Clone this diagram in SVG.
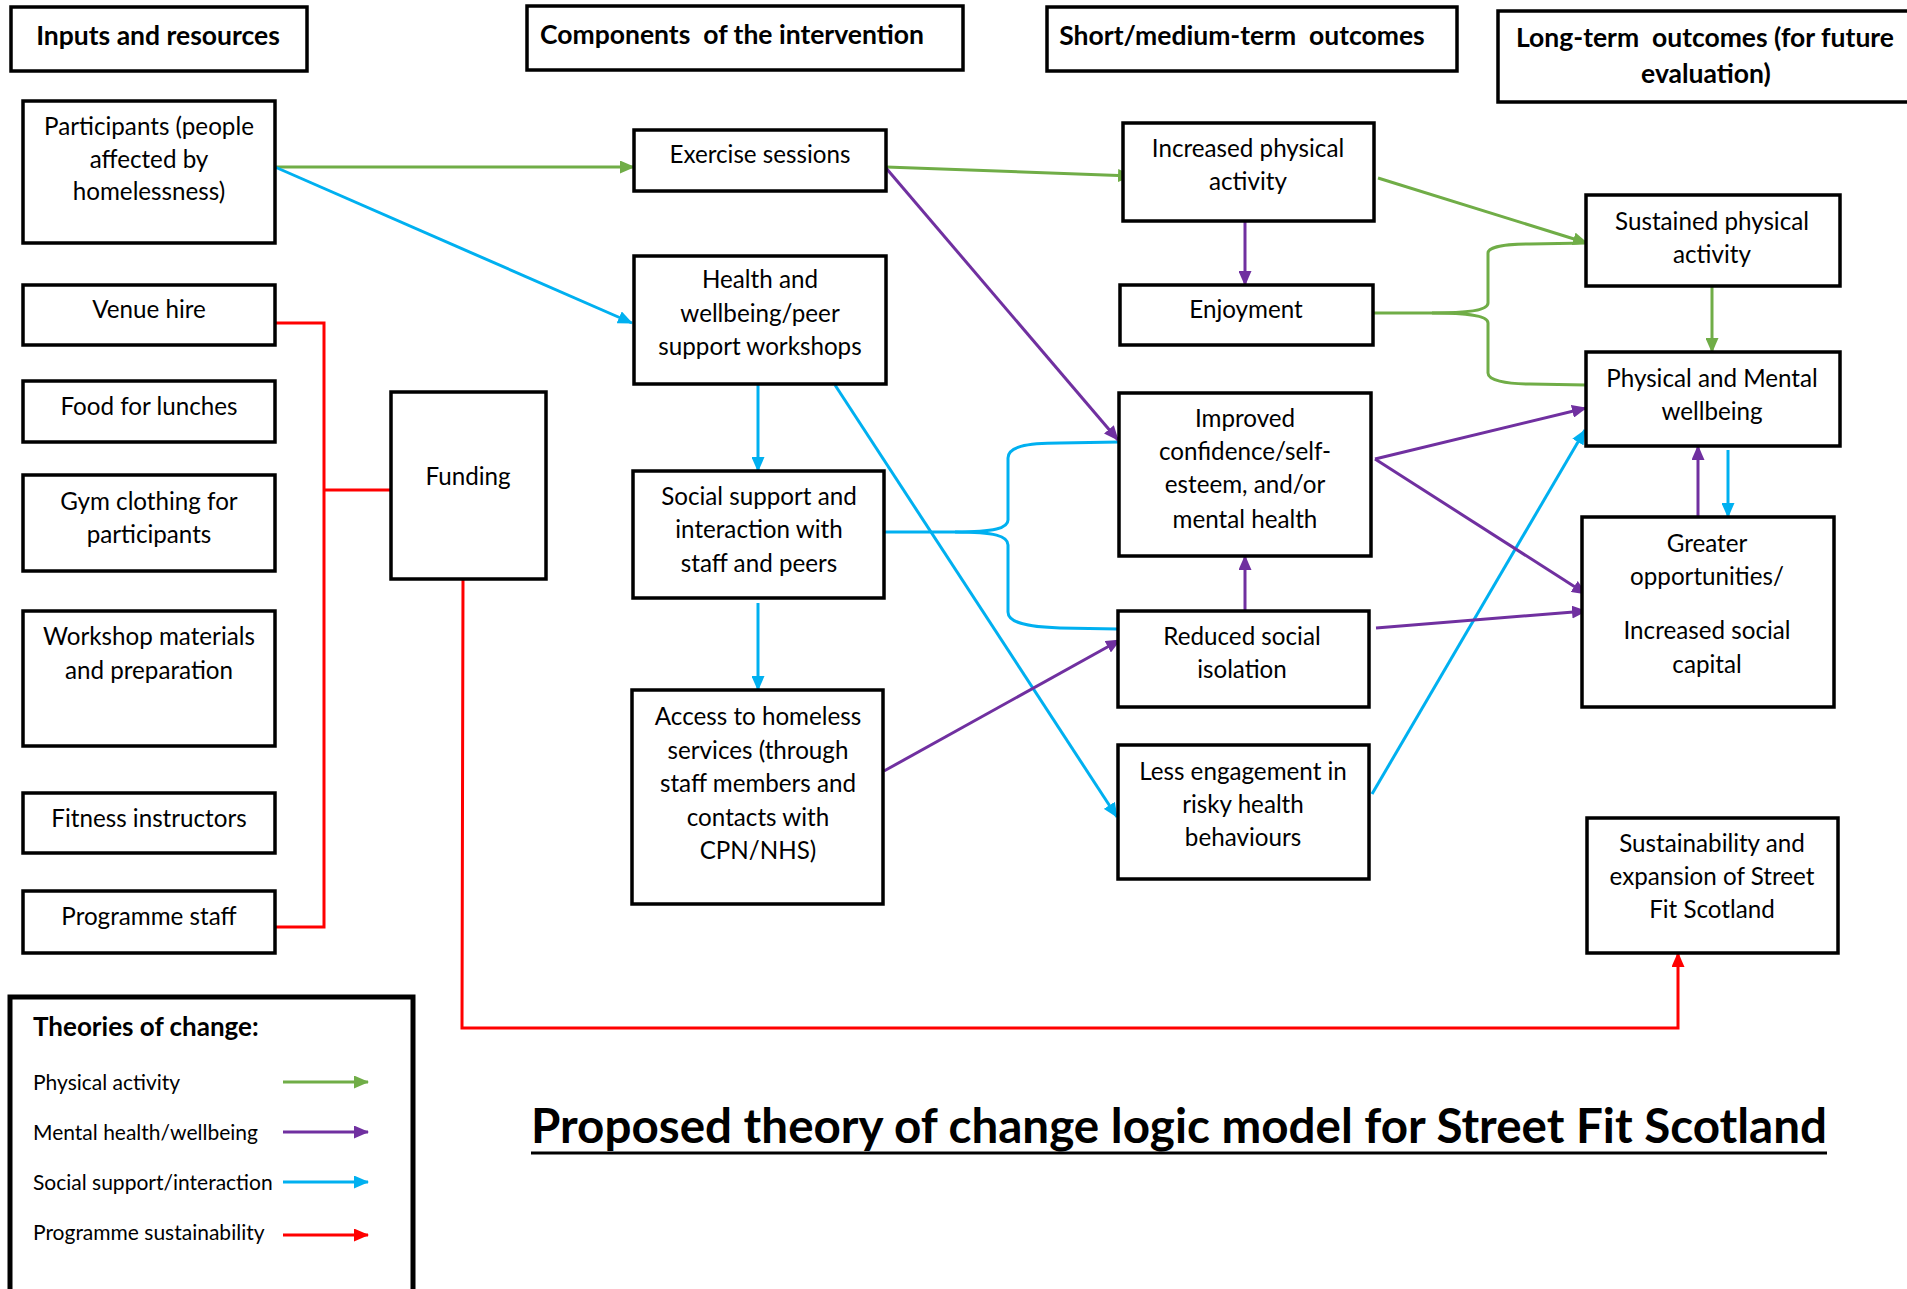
<svg xmlns="http://www.w3.org/2000/svg" width="1907" height="1289" viewBox="0 0 1907 1289">
<style>
.box{fill:#fff;stroke:#000;stroke-width:3.5}
.hd{font-family:Lato,"Liberation Sans",sans-serif;font-weight:bold;font-size:26.5px;fill:#000;text-anchor:middle}
.t{font-family:Lato,"Liberation Sans",sans-serif;font-size:24.2px;fill:#000;text-anchor:middle}
.lg{font-family:Lato,"Liberation Sans",sans-serif;font-size:21px;fill:#000}
.c{fill:none;stroke-width:3}
.g{stroke:#70AD47}.p{stroke:#7030A0}.b{stroke:#00B0F0}.r{stroke:#FF0000}
</style>
<defs>
<marker id="ag" markerUnits="userSpaceOnUse" markerWidth="15" markerHeight="13" refX="14" refY="6.5" orient="auto"><path d="M0,0 L15,6.5 L0,13 z" fill="#70AD47"/></marker>
<marker id="ap" markerUnits="userSpaceOnUse" markerWidth="15" markerHeight="13" refX="14" refY="6.5" orient="auto"><path d="M0,0 L15,6.5 L0,13 z" fill="#7030A0"/></marker>
<marker id="ab" markerUnits="userSpaceOnUse" markerWidth="15" markerHeight="13" refX="14" refY="6.5" orient="auto"><path d="M0,0 L15,6.5 L0,13 z" fill="#00B0F0"/></marker>
<marker id="ar" markerUnits="userSpaceOnUse" markerWidth="15" markerHeight="13" refX="14" refY="6.5" orient="auto"><path d="M0,0 L15,6.5 L0,13 z" fill="#FF0000"/></marker>
</defs>
<rect width="1907" height="1289" fill="#fff"/>

<g id="headers">
<g id="h-inputs"><rect class="box" x="11" y="7" width="296" height="64"/><text class="hd" x="158" y="45">Inputs and resources</text></g>
<g id="h-components"><rect class="box" x="527" y="6" width="436" height="64"/><text class="hd" x="732" y="44" xml:space="preserve">Components  of the intervention</text></g>
<g id="h-short"><rect class="box" x="1047" y="7" width="410" height="64"/><text class="hd" x="1242" y="45" xml:space="preserve">Short/medium-term  outcomes</text></g>
<g id="h-long"><rect class="box" x="1498" y="11" width="416" height="91"/><text class="hd" x="1705" y="47" xml:space="preserve">Long-term  outcomes (for future</text><text class="hd" x="1706" y="83">evaluation)</text></g>
</g>

<g id="connectors">
<path class="c r" d="M275,323 L324,323 L324,927 L275,927"/>
<path class="c r" d="M324,490 L391,490"/>
<path class="c r" d="M463,579 L462,1028 L1678,1028 L1678,953" marker-end="url(#ar)"/>
<path class="c g" d="M275,167 L634,167" marker-end="url(#ag)"/>
<path class="c g" d="M886,167 L1132,176" marker-end="url(#ag)"/>
<path class="c g" d="M1378,178 L1587,243" marker-end="url(#ag)"/>
<path class="c g" d="M1373,313 L1432,313 C1470,313 1488,310 1488,303 L1488,253 C1488,247 1505,244 1530,244 L1587,243"/>
<path class="c g" d="M1432,313 C1470,313 1488,316 1488,323 L1488,373 C1488,380 1505,384 1530,384 L1586,385"/>
<path class="c g" d="M1712,286 L1712,352" marker-end="url(#ag)"/>
<path class="c b" d="M275,167 L632,323" marker-end="url(#ab)"/>
<path class="c b" d="M758,384 L758,471" marker-end="url(#ab)"/>
<path class="c b" d="M758,603 L758,690" marker-end="url(#ab)"/>
<path class="c b" d="M835,385 L1117,817" marker-end="url(#ab)"/>
<path class="c b" d="M884,532 L955,532 C995,532 1008,528 1008,520 L1008,458 C1008,447 1025,443 1060,443 L1119,442"/>
<path class="c b" d="M955,532 C995,532 1008,536 1008,545 L1008,612 C1008,622 1025,627 1060,628 L1118,629"/>
<path class="c b" d="M1372,794 L1585,430" marker-end="url(#ab)"/>
<path class="c b" d="M1728,450 L1728,517" marker-end="url(#ab)"/>
<path class="c p" d="M1245,221 L1245,285" marker-end="url(#ap)"/>
<path class="c p" d="M886,168 L1118,440" marker-end="url(#ap)"/>
<path class="c p" d="M1245,611 L1245,556" marker-end="url(#ap)"/>
<path class="c p" d="M884,771 L1120,640" marker-end="url(#ap)"/>
<path class="c p" d="M1375,459 L1586,408" marker-end="url(#ap)"/>
<path class="c p" d="M1375,459 L1586,594" marker-end="url(#ap)"/>
<path class="c p" d="M1376,628 L1586,611" marker-end="url(#ap)"/>
<path class="c p" d="M1698,517 L1698,446" marker-end="url(#ap)"/>
</g>

<g id="n-participants"><rect class="box" x="23" y="101" width="252" height="142"/><text class="t" x="149" y="135">Participants (people</text><text class="t" x="149" y="168">affected by</text><text class="t" x="149" y="200">homelessness)</text></g>
<g id="n-venue"><rect class="box" x="23" y="285" width="252" height="60"/><text class="t" x="149" y="318">Venue hire</text></g>
<g id="n-food"><rect class="box" x="23" y="381" width="252" height="61"/><text class="t" x="149" y="415">Food for lunches</text></g>
<g id="n-gym"><rect class="box" x="23" y="475" width="252" height="96"/><text class="t" x="149" y="510">Gym clothing for</text><text class="t" x="149" y="543">participants</text></g>
<g id="n-workshop"><rect class="box" x="23" y="611" width="252" height="135"/><text class="t" x="149" y="645">Workshop materials</text><text class="t" x="149" y="679">and preparation</text></g>
<g id="n-fitness"><rect class="box" x="23" y="793" width="252" height="60"/><text class="t" x="149" y="827">Fitness instructors</text></g>
<g id="n-staff"><rect class="box" x="23" y="891" width="252" height="62"/><text class="t" x="149" y="925">Programme staff</text></g>
<g id="n-funding"><rect class="box" x="391" y="392" width="155" height="187"/><text class="t" x="468" y="485">Funding</text></g>

<g id="n-exercise"><rect class="box" x="634" y="130" width="252" height="61"/><text class="t" x="760" y="163">Exercise sessions</text></g>
<g id="n-health"><rect class="box" x="634" y="256" width="252" height="128"/><text class="t" x="760" y="288">Health and</text><text class="t" x="760" y="322">wellbeing/peer</text><text class="t" x="760" y="355">support workshops</text></g>
<g id="n-social"><rect class="box" x="633" y="471" width="251" height="127"/><text class="t" x="759" y="505">Social support and</text><text class="t" x="759" y="538">interaction with</text><text class="t" x="759" y="572">staff and peers</text></g>
<g id="n-access"><rect class="box" x="632" y="690" width="251" height="214"/><text class="t" x="758" y="725">Access to homeless</text><text class="t" x="758" y="759">services (through</text><text class="t" x="758" y="792">staff members and</text><text class="t" x="758" y="826">contacts with</text><text class="t" x="758" y="859">CPN/NHS)</text></g>

<g id="n-increased"><rect class="box" x="1123" y="123" width="251" height="98"/><text class="t" x="1248" y="157">Increased physical</text><text class="t" x="1248" y="190">activity</text></g>
<g id="n-enjoyment"><rect class="box" x="1120" y="285" width="253" height="60"/><text class="t" x="1246" y="318">Enjoyment</text></g>
<g id="n-confidence"><rect class="box" x="1119" y="393" width="252" height="163"/><text class="t" x="1245" y="427">Improved</text><text class="t" x="1245" y="460">confidence/self-</text><text class="t" x="1245" y="493">esteem, and/or</text><text class="t" x="1245" y="528">mental health</text></g>
<g id="n-isolation"><rect class="box" x="1118" y="611" width="251" height="96"/><text class="t" x="1242" y="645">Reduced social</text><text class="t" x="1242" y="678">isolation</text></g>
<g id="n-risky"><rect class="box" x="1118" y="745" width="251" height="134"/><text class="t" x="1243" y="780">Less engagement in</text><text class="t" x="1243" y="813">risky health</text><text class="t" x="1243" y="846">behaviours</text></g>

<g id="n-sustained"><rect class="box" x="1586" y="195" width="254" height="91"/><text class="t" x="1712" y="230">Sustained physical</text><text class="t" x="1712" y="263">activity</text></g>
<g id="n-wellbeing"><rect class="box" x="1586" y="352" width="254" height="94"/><text class="t" x="1712" y="387">Physical and Mental</text><text class="t" x="1712" y="420">wellbeing</text></g>
<g id="n-greater"><rect class="box" x="1582" y="517" width="252" height="190"/><text class="t" x="1707" y="552">Greater</text><text class="t" x="1707" y="585">opportunities/</text><text class="t" x="1707" y="639">Increased social</text><text class="t" x="1707" y="673">capital</text></g>
<g id="n-sustainability"><rect class="box" x="1587" y="818" width="251" height="135"/><text class="t" x="1712" y="852">Sustainability and</text><text class="t" x="1712" y="885">expansion of Street</text><text class="t" x="1712" y="918">Fit Scotland</text></g>

<g id="legend">
<rect x="10" y="997" width="403" height="300" fill="#fff" stroke="#000" stroke-width="5"/>
<text class="lg" x="33" y="1036" style="font-weight:bold;font-size:26px">Theories of change:</text>
<text class="lg" x="33" y="1090">Physical activity</text>
<text class="lg" x="33" y="1140">Mental health/wellbeing</text>
<text class="lg" x="33" y="1190">Social support/interaction</text>
<text class="lg" x="33" y="1240">Programme sustainability</text>
<path class="c g" d="M283,1082 L368,1082" marker-end="url(#ag)"/>
<path class="c p" d="M283,1132 L368,1132" marker-end="url(#ap)"/>
<path class="c b" d="M283,1182 L368,1182" marker-end="url(#ab)"/>
<path class="c r" d="M283,1235 L368,1235" marker-end="url(#ar)"/>
</g>

<g id="title">
<text x="531" y="1143" textLength="1296" lengthAdjust="spacingAndGlyphs" style="font-family:Lato,'Liberation Sans',sans-serif;font-weight:bold;font-size:47.5px">Proposed theory of change logic model for Street Fit Scotland</text>
<line x1="531" y1="1153" x2="1827" y2="1153" stroke="#000" stroke-width="3"/>
</g>
</svg>
